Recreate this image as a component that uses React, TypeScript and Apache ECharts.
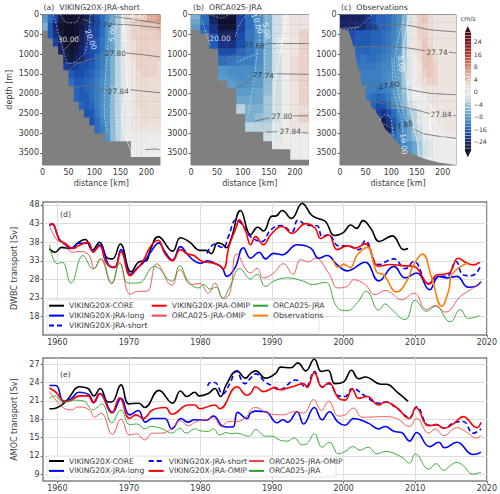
import React, { useEffect, useRef } from "react";
import * as echarts from "echarts";

const FONT = "DejaVu Sans";
const TXT = "#3a3a3a";

// ---------- section panel cell values, cm/s (rows hold only the ocean cells, aligned to the right edge)
const aKmEdges = [0,10,20,30,40,50,60,70,80,90,100,110,120,130,140,150,160,170,180,190,200,210,220,230];
const aDepthEdges = [0,200,400,600,800,1000,1200,1400,1600,1800,2000,2200,2400,2600,2800,3000,3200,3400,3600,3700];
const aRows = [
  [-8,-14,-20,-28,-30,-30,-30,-30,-26,-22,-18,-14,-10,-7,-4,-1,2,3,4,5,6,6,7],
  [-6,-16,-24,-30,-32,-32,-30,-28,-24,-20,-18,-14,-10,-7,-4,-1,1,3,3,4,4,4,5],
  [-16,-22,-28,-32,-32,-30,-26,-22,-20,-18,-14,-10,-7,-4,-1,1,3,3,3,3,3,4],
  [-20,-26,-30,-32,-30,-26,-22,-18,-16,-13,-10,-7,-4,-1,1,2,3,3,3,3,3],
  [-24,-28,-30,-28,-24,-20,-18,-16,-13,-9,-7,-4,-1,1,2,3,3,3,3,3],
  [-26,-28,-26,-24,-20,-18,-14,-12,-9,-6,-3,-1,0.5,2,3,3,3,3,3],
  [-20,-22,-20,-18,-18,-16,-14,-12,-9,-6,-3,-1,0,1,3,3,3,3,2],
  [-16,-18,-18,-16,-15,-13,-11,-9,-6,-3,-1,0,1,2,3,3,3,2],
  [-14,-16,-16,-15,-14,-12,-10,-8,-6,-3,-1,0,1,2,2,2,2,2],
  [-15,-16,-15,-14,-12,-10,-8,-5,-3,-1,0,1,2,2,2,2,2],
  [-15,-16,-16,-14,-12,-10,-8,-5,-3,-1,0,1,2,2,2,2,2],
  [-15,-16,-15,-12,-10,-8,-5,-3,-1,0,1,2,2,2,2,2],
  [-17,-16,-13,-10,-8,-5,-3,-1,0,1,1,2,2,2,2],
  [-17,-14,-11,-8,-5,-3,-1,0,1,1,2,2,2,2],
  [-14,-12,-9,-5,-3,-1,0,1,1,1,1,1,1],
  [-9,-5,-3,-1,0,0,0,0,0,0,0],
  [0,0,0,0,0,0],
  [0,0,0,0,0,0],
];

const bKmEdges = [0,18,35,52,70,87,104,122,139,156,174,191,208,226];
const bDepthEdges = [0,120,250,380,480,660,860,1040,1300,1530,1670,1860,2050,2270,2500,2730,2960,3200,3400,3670];
const bRows = [
  [-6,-14,-26,-30,-30,-20,-14,-10,-6,-2,0,1,1],
  [-7,-14,-24,-32,-32,-20,-14,-10,-6,-2,0,1,1],
  [-8,-16,-22,-30,-30,-20,-14,-10,-6,-2,0,1,1],
  [-14,-22,-26,-26,-20,-13,-10,-6,-2,0,1,3],
  [-18,-24,-24,-18,-13,-10,-6,-2,0,1,3],
  [-16,-22,-22,-18,-13,-9,-6,-2,0,1,3],
  [-18,-18,-15,-13,-10,-6,-2,0,1,3],
  [-14,-13,-12,-12,-10,-6,-2,0,2,3],
  [-9,-10,-10,-10,-9,-6,-2,0,2,3],
  [-8,-9,-10,-9,-8,-5,-2,0,2,3],
  [-8,-9,-9,-8,-5,-2,0,1,3],
  [-8,-8,-7,-5,-2,0,1,3],
  [-7,-7,-7,-4,-2,0,1,3],
  [-3,-6,-6,-4,-2,0,1,2],
  [-6,-5,-4,-2,0,1,3],
  [-3,-3,-3,-1,0,1,1],
  [-2,-1,0,0,0],
  [-0.5,0,0,0],
  [0,0],
];

const cKmEdges = aKmEdges;
const cDepthEdges = [0,200,400,600,800,1000,1200,1400,1600,1800,2000,2200,2400,2600,2800,3000,3200,3400,3600,3810];
const cRows = [
  [-25,-25,-25,-25,-24,-22,-18,-15,-15,-14,-12,-10,-6,-2,1,3,4,2,1,1,1,1,1],
  [-24,-24,-24,-23,-23,-20,-17,-15,-15,-14,-12,-9,-5,-1,1,3,3,2,1,1,1,1,1],
  [-18,-18,-16,-16,-16,-15,-15,-14,-13,-11,-9,-5,-1,1,3,3,2,1,1,1,1,1],
  [-17,-16,-16,-16,-15,-15,-14,-13,-11,-9,-5,-1,1,2,4,2,1,1,1,1,1],
  [-15,-15,-15,-14,-14,-13,-12,-10,-8,-4,-1,1,2,4,3,1,1,1,1,1],
  [-14,-13,-14,-14,-13,-12,-11,-10,-7,-4,-1,0,2,4,4,2,1,1,1,1],
  [-13,-13,-13,-13,-12,-11,-11,-9,-7,-4,-1,0,1,4,4,3,1,1,1,1],
  [-12,-12,-12,-12,-11,-10,-9,-7,-4,-1,0,1,3,4,3,1,1,1,1],
  [-12,-12,-12,-12,-11,-10,-9,-7,-4,-1,0,1,2,3,3,1,1,1,1],
  [-12,-12,-13,-12,-11,-9,-7,-4,-2,0,0,1,1,1,1,1,1,1],
  [-13,-14,-15,-14,-12,-9,-7,-5,-2,0,0,0,1,1,1,1,1,1],
  [-15,-18,-17,-14,-10,-8,-5,-3,-1,0,0,0,1,1,1,1,1],
  [-20,-22,-18,-14,-11,-8,-5,-3,-1,0,0,0,1,1,1,1],
  [-26,-22,-16,-12,-9,-6,-3,-1,0,0,0,1,1,1,1],
  [-27,-24,-15,-12,-9,-7,-4,-2,0,0,0,0,1,1,1],
  [-16,-14,-12,-10,-7,-5,-3,-1,0,0,0,0,0,0],
  [-13,-11,-9,-7,-4,-2,-1,0,0,0,0,0],
  [-10,-9,-7,-4,-2,-1,0,0,0,0,0],
  [-2,-1,0,0,0,0,0,0],
];
const cBathymetry = [[0,380],[16,400],[23,650],[29,990],[36,1415],[42,1755],[49,2090],[62,2350],[75,2560],[88,2900],[104,3110],[120,3365],[140,3530],[166,3660],[192,3745],[226,3810]];

// ---------- contours [km, depth]
const aGray = [
  [[76,120],[95,186]],
  [[133,245],[175,270],[226,340]],
  [[140,60],[175,120],[226,230]],
  [[47,1455],[66,1245],[98,1120],[120,1030]],
  [[161,975],[188,1010],[226,1075]],
  [[40,925],[63,610],[72,525]],
  [[61,1880],[79,1795],[104,1855],[127,1940]],
  [[169,1905],[194,1940],[226,1980]],
  [[197,3420],[220,3405],[226,3430]],
];
const aDashed = [
  [[130,145],[127,570],[125,990],[122,1415],[119,2090],[119,2600],[125,2980]],
  [[143,145],[140,570],[141,1330],[140,2175],[143,2980]],
  [[92,0],[88,480],[82,950],[63,1200],[50,1245],[40,905],[31,480],[21,0]],
  [[34,0],[47,210],[63,210],[72,0]],
  [[165,35],[226,100]],
];
const aSolid = [[[154,0],[157,480],[161,1330],[163,1840],[154,2515],[157,2980],[175,3600]]];
const aLabels = [
  ["27.74",114,255,-8,"#222"],["27.80",140,990,0,"#222"],["27.84",146,1950,0,"#222"],
  ["30.00",50,635,0,"#fff"],["20.00",93,635,-70,"#fff"],["5.00",185,85,0,"#fff"],
  ["0.00",157,480,85,"#fff"],["5.00",135,480,85,"#fff"],
];

const bGray = [
  [[53,1245],[104,865]],
  [[143,735],[226,735]],
  [[88,1865],[120,1600]],
  [[161,1500],[226,1515]],
  [[122,2700],[152,2615]],
  [[197,2565],[226,2565]],
  [[143,2980],[165,2965]],
  [[213,2990],[226,3005]],
];
const bDashed = [
  [[21,145],[37,780]],
  [[85,570],[94,230],[107,0]],
  [[36,0],[60,90],[72,0]],
  [[133,0],[131,735],[127,990],[120,1750],[110,2515]],
  [[88,1200],[127,990]],
  [[146,0],[143,480],[141,1500]],
];
const bSolid = [[[184,0],[175,735],[161,1780],[159,2600],[157,3360]]];
const bLabels = [
  ["27.68",122,780,-5,"#222"],["27.74",139,1540,-5,"#222"],["27.80",175,2585,0,"#222"],["27.84",191,2965,0,"#222"],
  ["20.00",56,620,0,"#fff"],["10.00",127,230,-70,"#fff"],["5.00",145,415,-80,"#fff"],["0.00",171,780,85,"#fff"],
];

const cGray = [
  [[0,355],[39,315]],
  [[72,300],[101,245],[140,290],[173,380],[226,440]],
  [[29,820],[88,805],[127,840],[166,920]],
  [[212,950],[226,975]],
  [[42,1735],[75,1820]],
  [[117,1855],[173,1990],[226,2030]],
  [[52,2175],[94,2280],[140,2390],[176,2515]],
  [[221,2560],[226,2560]],
  [[78,2725],[101,2870]],
  [[143,2895],[166,3025],[226,3135]],
];
const cDashed = [
  [[127,0],[114,570],[106,1245],[114,2005],[130,2685],[163,3025],[169,3615]],
  [[0,380],[29,355],[59,60],[62,0]],
  [[101,1100],[106,2005],[120,2700],[124,3280]],
  [[77,2685],[88,2530],[98,2600],[104,3110]],
];
const cSolid = [
  [[135,0],[124,905],[130,1750],[137,2400],[150,3200],[155,3600]],
  [[137,1930],[180,2400],[174,2850],[210,3150],[226,3180]],
];
const cLabels = [
  ["27.68",55,315,-5,"#222"],["27.74",189,950,0,"#222"],["27.80",96,1795,8,"#222"],["27.84",197,2530,0,"#222"],["27.88",122,2810,15,"#222"],
  ["5.00",119,1245,-85,"#fff"],["10.00",124,3280,-85,"#fff"],["0.00",176,2700,75,"#fff"],
];

// ---------- colour bar
const cbLevels = [-30,-28,-26,-24,-22,-20,-18,-16,-14,-12,-10,-8,-7,-6,-5,-4,-3,-2,-1,0,1,2,3,4,5,6,7,8,10,12,14,16,18,20,22,24,26,28,30];
const cbTicks = [3,7,11,15,19,23,27,31,35];
const cmapValues = [-32,-28,-24,-20,-16,-12,-8,-6,-4,-2,0,2,4,8,16,24,32];
const cmapColors = ["#0e0e28","#141a3c","#16256b","#1a3fa0","#1f5ab8","#3b7fc2","#5b9bc9","#7eb0d0","#a6c8da","#d0dfe5","#eeecea","#ecdcd6","#e8c8bc","#d88a70","#b83a2c","#801424","#300810"];

function hex(c: string) { return [1,3,5].map((i) => parseInt(c.slice(i, i + 2), 16)); }
function colorFor(v: number) {
  if (v <= cmapValues[0]) return cmapColors[0];
  for (let i = 1; i < cmapValues.length; i++) {
    if (v <= cmapValues[i]) {
      const t = (v - cmapValues[i - 1]) / (cmapValues[i] - cmapValues[i - 1]);
      const a = hex(cmapColors[i - 1]), b = hex(cmapColors[i]);
      return `rgb(${a.map((x, k) => Math.round(x + (b[k] - x) * t)).join(",")})`;
    }
  }
  return cmapColors[cmapColors.length - 1];
}

// ---------- DWBC transport [year, Sv]
const dCore = [[1958.9,36.2],[1959.7,35.3],[1960.6,36.6],[1961.8,36.3],[1963,38],[1963.9,38.7],[1964.9,35.9],[1965.9,38],[1967,33.7],[1967.7,33.5],[1968.8,37.5],[1970.3,30],[1971.5,32.8],[1972.4,33],[1973,36],[1974.1,39.5],[1976.1,35.6],[1977.2,39.2],[1978.5,38],[1979.9,35.8],[1980.8,35.8],[1981.5,34.9],[1982.4,37.8],[1983.1,37.4],[1983.6,36.5],[1984.3,39],[1985.6,46.5],[1987,40],[1987.7,41.7],[1988,42],[1988.8,41],[1990,45],[1990.5,45],[1991.4,46.5],[1992.7,44.4],[1994.2,48.4],[1995.5,45.3],[1996.4,44.4],[1997.5,43.5],[1998.7,39.8],[1999.9,40.5],[2001,42.6],[2001.8,41.7],[2002.7,43.8],[2003.8,41.7],[2005,38.2],[2006.8,39.7],[2008.4,36],[2009,36.3]];
const dLong = [[1958.9,42.5],[1959.3,42.8],[1960,40],[1960.3,38.7],[1961,37.5],[1962,36.3],[1963,37.7],[1964.3,37.7],[1965,35.5],[1965.9,37.3],[1967.2,31.8],[1968,31.2],[1968.9,36],[1970.2,29.3],[1971,30.8],[1972,32.5],[1973,35.2],[1974.2,37.8],[1975,35.5],[1976.1,33.2],[1977.2,36.8],[1978.2,34.7],[1979,33.2],[1980,32.3],[1981,33],[1982,32.3],[1983,31.2],[1983.7,28.8],[1984.8,31],[1986,36.5],[1987,33.7],[1988.2,35.3],[1989.1,33.5],[1990.2,35],[1991.4,34.6],[1993.5,37.3],[1995.4,36.4],[1996.5,33.7],[1997.7,34.4],[1999.1,31.9],[2000.5,30.3],[2003,32.6],[2004.9,27.6],[2007,31.5],[2008.6,28.4],[2010.2,29.7],[2012,25.2],[2013.3,28.8],[2014.4,28.4],[2015.8,28.8],[2017.4,25.9],[2018.4,26.1],[2019.2,27.4]];
const dShort = [[1980.9,35],[1982,37.5],[1982.7,36.8],[1983.2,36.6],[1983.9,39.5],[1985,44],[1986.2,41.8],[1987,39.5],[1988.6,38.2],[1989.8,41.3],[1991.2,42.5],[1992.8,40.9],[1993.6,43.9],[1994.9,42.6],[1996.3,42.4],[1997,39.5],[1997.9,40],[1999.3,37],[2000.7,37],[2002.1,36],[2003,38.4],[2004.9,32],[2007,33.5],[2008.6,30.9],[2009.8,32.8],[2011.9,26.8],[2013.5,28.8],[2014.4,28.8],[2015.7,32.8],[2016.7,29.2],[2017.9,29],[2019.2,31.9]];
const dOmip = [[1958.9,42.7],[1959.3,43],[1960,40],[1960.3,38.5],[1961,37.8],[1962.2,36.3],[1962.9,37],[1963.5,37.5],[1964.3,38],[1965,35.3],[1965.9,37],[1966.7,33],[1967.3,31.5],[1968,31.3],[1968.9,35.4],[1970.2,29],[1971,30.5],[1972,33],[1973,36.8],[1974.1,38.5],[1975,35],[1976.1,33],[1977.2,36],[1978.2,34.8],[1979,34.5],[1980.3,32.8],[1981.5,32.5],[1982.6,31.8],[1983.2,30.8],[1984,37],[1985,42],[1985.4,44],[1986.3,41],[1987,37.3],[1987.7,39.5],[1988.8,37.3],[1989.8,40],[1991.4,42.2],[1992.8,40.4],[1994.7,43],[1996,41.8],[1996.8,39],[1997.9,40],[1999.1,36],[2000.5,37],[2001.6,36.4],[2003,37.6],[2004.9,31.5],[2006.5,32],[2008.1,31.7],[2009.8,31.5],[2011.9,26.8],[2013,29.2],[2014,29.4],[2014.9,30],[2016,33.7],[2017.2,32.4],[2018.1,31.9],[2019,32.6]];
const dOrcaOmip = [[1958.9,42.4],[1959.9,38.7],[1960.8,37.7],[1962.2,35.3],[1962.9,35.5],[1964.3,34.8],[1965.2,30.9],[1966,33.5],[1967.6,26.8],[1968.7,32.4],[1970.2,24],[1971.3,24.8],[1972.5,24.8],[1973.9,32.2],[1976,26.4],[1977.1,30.6],[1978.7,26.6],[1979.9,26.9],[1981.1,24.3],[1982,27],[1983.2,22.8],[1984.1,24.3],[1985.1,34.8],[1987,29.7],[1987.9,31],[1988.8,28.4],[1990.2,29.7],[1991.6,32.2],[1992.9,29.4],[1994,33.3],[1995.1,32.7],[1996,33.7],[1997.9,29.7],[1999.2,25.7],[2000.5,26.1],[2001.4,27.9],[2003,26.6],[2004.4,23.9],[2005.8,25],[2006.7,24.3],[2008.1,22.5],[2009.8,24.3],[2011.6,19.9],[2012.8,21],[2014.2,19.2],[2016.3,23.4],[2017.7,25.2],[2019.2,27.4]];
const dOrca = [[1958.9,37.3],[1960,32.2],[1960.7,32.6],[1961.9,27],[1963.6,34.4],[1965,30.8],[1966.1,33.5],[1967.6,27],[1968.7,32.4],[1969.9,27],[1971.3,27],[1973.6,31.5],[1976,27.5],[1977.1,31.7],[1978.3,27.5],[1979.7,25.7],[1980.5,26.6],[1981.3,25.4],[1982.2,25.9],[1983.1,23],[1984.1,26],[1985.5,30.9],[1987,28.1],[1987.9,29.4],[1989.1,26.1],[1990.2,27.5],[1992.1,28.4],[1994.4,27.5],[1995.6,26.6],[1997.4,27.2],[1999.1,20.5],[2000.5,19.6],[2001.9,21.7],[2003.2,24.8],[2004.9,19.7],[2005.8,21.4],[2006.7,19.9],[2008.6,17.2],[2010,22.4],[2011.6,19.4],[2012.8,20.8],[2014.9,16.6],[2016.3,19.9],[2017.4,17.5],[2019,18.3]];
const dObs = [[1998.5,33.3],[1999.3,31.2],[2000,32.1],[2000.9,31.2],[2001.9,34.6],[2003.3,36.6],[2004.6,30],[2005.6,29.2],[2007.4,24.6],[2008.8,27.5],[2009.8,32],[2011,34.8],[2012.3,28.4],[2013.7,20.8],[2014.7,25.2],[2015.1,29.2],[2017.4,32.5]];

// ---------- AMOC transport [year, Sv]
const eCore = [[1958.9,19.7],[1959.4,19.7],[1960.6,20.3],[1961.5,21.3],[1963.1,23.3],[1964.3,23],[1965.1,21.8],[1966,23],[1967.1,20.8],[1967.6,20.8],[1968.9,23.6],[1970,20.5],[1971.4,20.6],[1972.2,19.9],[1974.2,22.7],[1976.1,20.6],[1977.2,22.6],[1978.1,21.7],[1979.2,22.4],[1979.8,21.8],[1981.1,22.2],[1982,23],[1982.8,21.7],[1983.6,23.6],[1985.1,25.9],[1986.3,24.7],[1987,25.5],[1987.7,25.9],[1989.1,24.7],[1990.5,25.5],[1991.2,26.5],[1992.6,26.4],[1993.6,27.2],[1994.7,25.9],[1995.9,27.8],[1996.9,25.8],[1997.8,26],[1998.8,23.8],[2000,24.1],[2001.1,26],[2002.1,24.6],[2003,24.9],[2005.3,23.7],[2006,23.7],[2007.4,22.5],[2009,20.9]];
const eLong = [[1958.9,23.5],[1959.8,23.5],[1960.9,20.9],[1962,21.4],[1963,22.4],[1964.4,22],[1965.1,20.7],[1966,22.2],[1967.7,19.1],[1968.9,21.4],[1970.1,18.7],[1971.3,19.4],[1972.3,17.5],[1973.3,18.1],[1975,18.1],[1976,16.4],[1977.3,18.1],[1978.2,17.5],[1979.2,17.9],[1980.8,17.8],[1981.8,18.5],[1983.2,16.8],[1984.5,16.7],[1985.2,19.1],[1986.5,18.1],[1987,19],[1987.7,19.3],[1989.1,19.2],[1990.7,17.4],[1991.5,17.9],[1992.2,17.5],[1993.5,19.2],[1994.4,17.2],[1995.9,19.9],[1997,17.9],[1998,19.2],[1999.2,17.5],[2000.2,17],[2001.4,18.1],[2003.5,17.3],[2004.9,16.4],[2005.8,16.8],[2007,16],[2008.1,15.8],[2009.2,14.4],[2010.2,15.8],[2012,13.5],[2013.3,14.2],[2014.1,13.3],[2015.8,14.2],[2018.1,12.2],[2019.2,12.6]];
const eShort = [[1981,23.4],[1981.4,24],[1982,24],[1983.1,22.1],[1984.1,23.8],[1985,25.8],[1986.2,23.8],[1987,24.7],[1987.7,25.4],[1989.1,24],[1989.8,23.6],[1991,22.8],[1993.3,24.4],[1994.7,23.3],[1995.9,25.8],[1997,23.3],[1997.9,23.8],[1999.3,21.8],[2000.2,21.7],[2001.2,23],[2003,21.8],[2004.9,20.6],[2005.8,20.8],[2007.4,19.8],[2009.2,18.3],[2010.2,20],[2011.9,17],[2013,17.1],[2014,16.5],[2015.4,17.4],[2016.7,17.6],[2018.1,15.7],[2019.2,16.4]];
const eOmip = [[1958.9,23.1],[1959.9,22.3],[1960.8,21],[1961.5,20.9],[1963.1,21.8],[1964.3,21.8],[1965,20.7],[1965.9,22.2],[1967.6,19],[1968.7,21.5],[1970.1,18.1],[1971,18.7],[1972,18.1],[1973.3,19.5],[1975.1,19.9],[1976,18.8],[1978.3,20.3],[1979.2,20.3],[1979.9,19.7],[1982,20.3],[1982.7,19.7],[1985.1,23.3],[1986.5,21.9],[1987,22.2],[1987.7,23.3],[1988.8,22.5],[1990.5,23.2],[1991,22.8],[1992.8,23.3],[1994.4,23.8],[1994.9,23.2],[1995.9,25.6],[1997,23.2],[1997.9,24],[1999.3,21.4],[2000.2,21.1],[2001.2,22.9],[2002.1,21.4],[2003.3,21.7],[2004.9,20.3],[2005.8,20.8],[2007.4,19.9],[2009.2,18.1],[2010.1,19.9],[2011.9,16.9],[2013,17.1],[2014,16.5],[2015.4,17.3],[2016.7,18.4],[2018.6,16.6],[2019.2,17.5]];
const eOrcaOmip = [[1958.9,22.5],[1960.8,19.9],[1962,19.5],[1962.9,20],[1964.5,19.5],[1965.2,18.3],[1966.1,19],[1967.7,15.5],[1968.9,18],[1970.1,15.4],[1971,15.6],[1972.2,14.6],[1973.3,15.7],[1974.5,15.7],[1976.2,16.7],[1977.1,17.8],[1978.3,16.9],[1979.4,17.6],[1980.8,17.9],[1981.8,18.3],[1982.9,16.8],[1983.9,17.6],[1985.1,17.6],[1986.5,18.5],[1987,19.5],[1987.7,19.9],[1989.3,19],[1991.6,18.7],[1993,19.2],[1994.4,19],[1995.8,21.2],[1996.9,19.4],[1997.9,20.9],[1999.3,18.5],[2000.2,18.7],[2001.4,19.8],[2002.6,18.3],[2005.8,18.4],[2007.4,18.1],[2009.2,16.8],[2010.2,18.1],[2011.9,15.7],[2012.8,16.4],[2014,15.3],[2015.8,16.6],[2017,16],[2018.6,14.9],[2019.2,15.4]];
const eOrca = [[1958.9,21.4],[1959.7,21.8],[1960.8,20.7],[1962,21.1],[1963.6,21],[1965,19.5],[1966.2,20.5],[1967.6,17.4],[1968.9,19.5],[1970.1,17.1],[1971.2,17.2],[1972.2,16.4],[1973.1,16.8],[1974.7,16.4],[1976,15.7],[1977.1,16.5],[1978,15.7],[1979.2,16.4],[1979.9,16.1],[1981.1,16],[1981.8,16.4],[1982.7,15.4],[1983.6,15.8],[1984.3,15.6],[1985.1,15.7],[1986.7,15.2],[1987,15.3],[1987.7,16.3],[1989.1,15.2],[1990,15.2],[1991,14.6],[1992.1,14.4],[1993.1,14.9],[1994.2,13.8],[1994.9,14],[1995.9,15.6],[1997,13.4],[1998,14.2],[1999.3,12.3],[2000.2,12.7],[2001.3,13.5],[2002.3,12.9],[2003.4,13.4],[2004.7,12.3],[2005.8,12.7],[2008.1,11.8],[2009.2,10.8],[2010,12.3],[2011.9,9.8],[2012.9,10.7],[2014,9.6],[2014.9,10.4],[2015.8,10.9],[2016.7,10.4],[2018,9],[2019.2,9.3]];

const depthTicks = [0,500,1000,1500,2000,2500,3000,3500];
const kmTicks = [0,50,100,150,200];
const yearTicks = [1960,1970,1980,1990,2000,2010,2020];
const dwbcTicks = [18,23,28,33,38,43,48];
const amocTicks = [9,12,15,18,21,24,27];

function cellRender(_p: any, api: any) {
  const a = api.coord([api.value(0), api.value(2)]);
  const b = api.coord([api.value(1), api.value(3)]);
  return {
    type: "rect",
    shape: { x: a[0], y: a[1], width: b[0] - a[0] + 0.4, height: b[1] - a[1] + 0.4 },
    style: { fill: colorFor(api.value(4)) },
  };
}
function cells(rows: number[][], xe: number[], ye: number[]) {
  const out: number[][] = [];
  const n = xe.length - 1;
  rows.forEach((r, j) => {
    r.forEach((v, k) => {
      const i = n - r.length + k;
      out.push([xe[i], xe[i + 1], ye[j], ye[j + 1], v]);
    });
  });
  return out;
}
const GRIDS = [
  { left: 42.5, top: 14.5, width: 117.5, height: 150.5 },
  { left: 191, top: 14.5, width: 117.5, height: 150.5 },
  { left: 340, top: 14.5, width: 116, height: 150.5 },
  { left: 43, top: 202, width: 444, height: 133 },
  { left: 43, top: 358, width: 444, height: 123 },
  { left: 465, top: 26, width: 5.7, height: 131.3 },
];

function sectionSeries(idx: number, rows: number[][], xe: number[], ye: number[], gray: any[], dashed: any[], solid: any[], labels: any[]) {
  const base = { xAxisIndex: idx, yAxisIndex: idx, silent: true };
  const out: any[] = [];
  out.push({
    ...base, type: "custom", renderItem: cellRender, clip: true,
    encode: { x: [0, 1], y: [2, 3] }, data: cells(rows, xe, ye), z: 2,
  });
  const line = (d: any, color: string, width: number, type: any) => ({
    ...base, type: "line", data: d, showSymbol: false, symbol: "none", smooth: 0.3, z: 4,
    lineStyle: { color, width, type },
  });
  gray.forEach((d) => out.push(line(d, "#6e6e6e", 0.9, "solid")));
  dashed.forEach((d) => out.push(line(d, "rgba(255,255,255,0.7)", 0.7, [2, 1.5])));
  solid.forEach((d) => out.push(line(d, "rgba(255,255,255,0.85)", 0.7, "solid")));
  out.push({
    ...base, type: "scatter", symbolSize: 1, itemStyle: { color: "transparent" }, z: 6,
    data: labels.map((l) => ({
      value: [l[1], l[2]],
      label: { show: true, position: "inside", formatter: l[0], rotate: l[3], color: l[4], fontSize: 7.4, fontFamily: FONT },
    })),
  });
  return out;
}

function curve(name: string, data: number[][], idx: number, color: string, width: number, dash?: any) {
  return {
    name, type: "line", data, xAxisIndex: idx, yAxisIndex: idx,
    showSymbol: false, symbol: "none", smooth: 0.45, z: 3, silent: true,
    lineStyle: { color, width, type: dash || "solid" },
    itemStyle: { color },
  };
}

const C = { core: "VIKING20X-CORE", long: "VIKING20X-JRA-long", short: "VIKING20X-JRA-short", omip: "VIKING20X-JRA-OMIP", oomip: "ORCA025-JRA-OMIP", orca: "ORCA025-JRA", obs: "Observations" };

function legendAt(left: number, top: number, data: string[]) {
  return {
    left, top, orient: "vertical", data, itemWidth: 15, itemHeight: 8, itemGap: 1.9, padding: 0,
    itemStyle: { opacity: 0 },
    textStyle: { fontFamily: FONT, fontSize: 7.6, color: TXT },
    selectedMode: false, z: 8,
  };
}

function mkOption() {
  const FS = 8;
  const str = (v: number) => String(v);
  const sectionX = (gridIndex: number) => ({
    type: "value", gridIndex, min: 0, max: 226,
    axisLine: { show: false }, splitLine: { show: false },
    axisTick: { show: true, length: 2.5, customValues: kmTicks, lineStyle: { color: "#444", width: 0.8 } },
    axisLabel: { customValues: kmTicks, fontFamily: FONT, fontSize: FS, color: TXT, margin: 3.5, formatter: str },
    name: "distance [km]", nameLocation: "middle", nameGap: 14,
    nameTextStyle: { fontFamily: FONT, fontSize: FS, color: TXT },
  });
  const sectionY = (gridIndex: number, name: string) => ({
    type: "value", gridIndex, min: 0, max: 3810, inverse: true,
    axisLine: { show: false }, splitLine: { show: false },
    axisTick: { show: true, length: 2.5, customValues: depthTicks, lineStyle: { color: "#444", width: 0.8 } },
    axisLabel: { customValues: depthTicks, fontFamily: FONT, fontSize: FS, color: TXT, margin: 3.5, formatter: str },
    name, nameLocation: "middle", nameGap: 28,
    nameTextStyle: { fontFamily: FONT, fontSize: FS, color: TXT },
  });
  const timeX = (gridIndex: number) => ({
    type: "value", gridIndex, min: 1958, max: 2020,
    axisLine: { show: false },
    splitLine: { show: true, customValues: yearTicks, lineStyle: { color: "#dedede", width: 1 } },
    axisTick: { show: true, length: 2.5, customValues: yearTicks, lineStyle: { color: "#555", width: 0.8 } },
    axisLabel: { customValues: yearTicks, fontFamily: FONT, fontSize: FS, color: TXT, margin: 3.5, formatter: str },
  });
  const timeY = (gridIndex: number, name: string, min: number, max: number, ticks: number[]) => ({
    type: "value", gridIndex, min, max,
    axisLine: { show: false },
    splitLine: { show: true, customValues: ticks, lineStyle: { color: "#dedede", width: 1 } },
    axisTick: { show: true, length: 2.5, customValues: ticks, lineStyle: { color: "#555", width: 0.8 } },
    axisLabel: { customValues: ticks, fontFamily: FONT, fontSize: FS, color: TXT, margin: 3.5, formatter: str },
    name, nameLocation: "middle", nameGap: 21,
    nameTextStyle: { fontFamily: FONT, fontSize: FS, color: TXT },
  });

  const cbCells = cbLevels.slice(0, -1).map((lv, i) => [0, 1, i, i + 1, (lv + cbLevels[i + 1]) / 2]);

  const series: any[] = [
    ...sectionSeries(0, aRows, aKmEdges, aDepthEdges, aGray, aDashed, aSolid, aLabels),
    ...sectionSeries(1, bRows, bKmEdges, bDepthEdges, bGray, bDashed, bSolid, bLabels),
    ...sectionSeries(2, cRows, cKmEdges, cDepthEdges, cGray, cDashed, cSolid, cLabels),
    {
      type: "line", xAxisIndex: 2, yAxisIndex: 2, data: cBathymetry, showSymbol: false, symbol: "none", z: 3, silent: true,
      lineStyle: { width: 0 }, areaStyle: { color: "#808080", opacity: 1, origin: "end" },
    },
    curve(C.core, dCore, 3, "#000000", 1.6),
    curve(C.long, dLong, 3, "#0000ff", 1.6),
    curve(C.short, dShort, 3, "#0000ff", 1.6, [5, 3]),
    curve(C.omip, dOmip, 3, "#ff0000", 1.6),
    curve(C.oomip, dOrcaOmip, 3, "#f64747", 0.9),
    curve(C.orca, dOrca, 3, "#2ca02c", 0.9),
    curve(C.obs, dObs, 3, "#ff7f0e", 1.6),
    curve(C.core, eCore, 4, "#000000", 1.6),
    curve(C.long, eLong, 4, "#0000ff", 1.6),
    curve(C.short, eShort, 4, "#0000ff", 1.6, [5, 3]),
    curve(C.omip, eOmip, 4, "#ff0000", 1.6),
    curve(C.oomip, eOrcaOmip, 4, "#f64747", 0.9),
    curve(C.orca, eOrca, 4, "#2ca02c", 0.9),
    {
      type: "custom", xAxisIndex: 5, yAxisIndex: 5, renderItem: cellRender, silent: true,
      encode: { x: [0, 1], y: [2, 3] }, data: cbCells, z: 2,
    },
    {
      type: "custom", xAxisIndex: 5, yAxisIndex: 5, silent: true, z: 2, clip: false,
      encode: { x: 0, y: 1 }, data: [[0.5, -2, 0, -30], [0.5, 40, 38, 30]],
      renderItem: (_p: any, api: any) => {
        const tip = api.coord([api.value(0), api.value(1)]);
        const l = api.coord([0, api.value(2)]);
        const r = api.coord([1, api.value(2)]);
        return { type: "polygon", shape: { points: [tip, l, r] }, style: { fill: colorFor(api.value(3)) } };
      },
    },
  ];

  return {
    animation: false,
    backgroundColor: "#ffffff",
    textStyle: { fontFamily: FONT },
    grid: GRIDS.map((g, i) => ({
      ...g, show: true, containLabel: false,
      backgroundColor: i < 3 ? "#808080" : i === 5 ? "transparent" : "#ffffff",
      borderColor: i === 5 ? "transparent" : "#808080",
      borderWidth: i < 3 ? 1 : i === 5 ? 0 : 1.5,
    })),
    xAxis: [
      sectionX(0), sectionX(1), sectionX(2), timeX(3), timeX(4),
      { type: "value", gridIndex: 5, min: 0, max: 1, show: false },
    ],
    yAxis: [
      { ...sectionY(0, "depth [m]"), nameGap: 29 },
      { ...sectionY(1, ""), name: undefined },
      { ...sectionY(2, ""), name: undefined },
      timeY(3, "DWBC transport [Sv]", 13.05, 48.8, dwbcTicks),
      timeY(4, "AMOC transport [Sv]", 7.87, 28, amocTicks),
      {
        type: "value", gridIndex: 5, min: -2, max: 40, position: "right",
        axisLine: { show: false }, splitLine: { show: false },
        axisTick: { show: true, length: 2, customValues: cbTicks, lineStyle: { color: "#555", width: 0.6 } },
        axisLabel: {
          customValues: cbTicks, fontFamily: FONT, fontSize: 6.2, color: TXT, margin: 3,
          formatter: (v: number) => String(cbLevels[v]).replace("-", "\u2212"),
        },
      },
    ],
    legend: [
      legendAt(48, 301.7, [C.core, C.long, C.short]),
      legendAt(150.7, 301.7, [C.omip, C.oomip]),
      legendAt(252, 301.7, [C.orca, C.obs]),
      legendAt(48, 457, [C.core, C.long]),
      legendAt(147.7, 457, [C.short, C.omip]),
      legendAt(248, 457, [C.oomip, C.orca]),
    ],
    graphic: [
      ...[[47, 300, 272, 33], [47, 456, 289, 21]].map((b) => ({
        type: "rect", z: 5, silent: true,
        shape: { x: b[0], y: b[1], width: b[2], height: b[3], r: 1.5 },
        style: { fill: "rgba(255,255,255,0.8)", stroke: "#dddddd", lineWidth: 0.8 },
      })),
      ...[
        ["(a)  VIKING20X-JRA-short", 43.5, 7],
        ["(b)  ORCA025-JRA", 193, 7],
        ["(c)  Observations", 341, 7],
        ["cm/s", 468, 19, "center"],
        ["(d)", 60, 214],
        ["(e)", 60, 374],
      ].map((t: any) => ({
        type: "text", x: t[1], y: t[2], z: 9, silent: true,
        style: { text: t[0], fontFamily: FONT, fontSize: t[0] === "cm/s" ? 6.4 : 7.8, fill: TXT, textAlign: t[3] || "left", textVerticalAlign: "middle" },
      })),
    ],
    series,
  };
}

export default function App() {
  const ref = useRef<HTMLDivElement>(null);
  useEffect(() => {
    const chart = echarts.init(ref.current!, undefined, { renderer: "svg" });
    chart.setOption(mkOption() as any);
    return () => chart.dispose();
  }, []);
  return <div ref={ref} style={{ position: "fixed", left: 0, top: 0, width: 500, height: 494 }} />;
}
